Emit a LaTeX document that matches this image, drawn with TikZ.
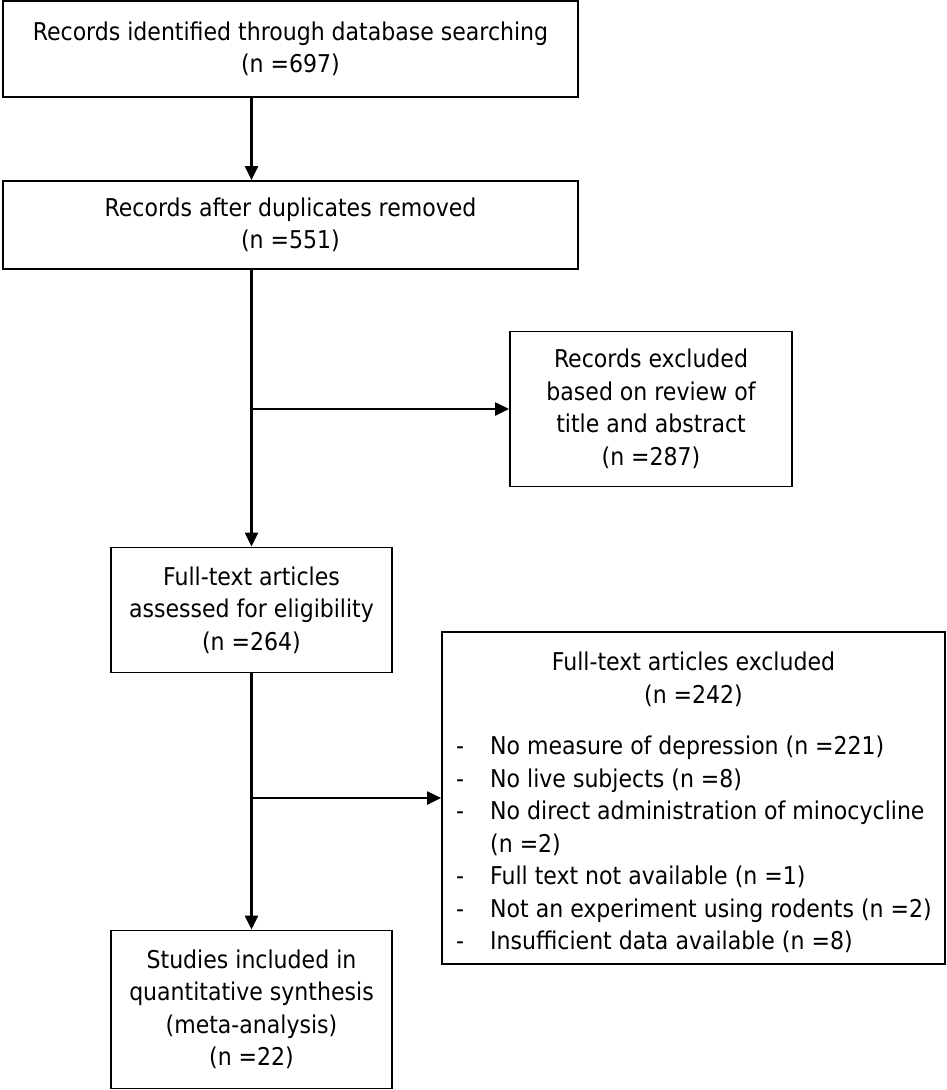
\documentclass[tikz,border=0pt]{standalone}
\usepackage{fontspec}
\setmainfont{DejaVu Sans Condensed}
\usetikzlibrary{arrows.meta}
\begin{document}
\begin{tikzpicture}[x=1pt,y=-1pt,
  txt/.style={font=\fontsize{24.5}{32.5}\selectfont},
  box/.style={draw, line width=1.8pt, inner sep=0pt, align=center, txt},
  arr/.style={line width=2.2pt, -{Triangle[length=14pt,width=13pt]}},
  ln/.style={line width=2.2pt}]
\useasboundingbox (0,0) rectangle (947,1090);
\node[box, minimum width=575, minimum height=96] (b1) at (290.5,49) {Records identified through database searching\\(n =697)};
\node[box, minimum width=575, minimum height=88] (b2) at (290.5,225) {Records after duplicates removed\\(n =551)};
\node[box, minimum width=282, minimum height=155] (ex1) at (651,409) {Records excluded\\based on review of\\title and abstract\\(n =287)};
\node[box, minimum width=281, minimum height=125] (b3) at (251.5,610) {Full-text articles\\assessed for eligibility\\(n =264)};
\node[box, minimum width=503, minimum height=332] (ex2) at (693.5,798) {};
\node[txt, align=center, inner sep=0pt, anchor=north] (t2) at (693.5,648) {\strut Full-text articles excluded\\\strut(n =242)};
\node[txt, inner sep=0pt, anchor=north west] (l2) at (456,732) {%
\begin{tabular}{@{}p{34pt}@{}l@{}}
-& No measure of depression (n =221)\\
-& No live subjects (n =8)\\
-& No direct administration of minocycline\\
 & (n =2)\\
-& Full text not available (n =1)\\
-& Not an experiment using rodents (n =2)\\
-& Insufficient data available (n =8)
\end{tabular}};
\node[box, minimum width=281, minimum height=158] (b5) at (251.5,1009.5) {Studies included in\\quantitative synthesis\\(meta-analysis)\\(n =22)};
\draw[arr] (b1.south -| b3) -- (b2.north -| b3);
\draw[arr] (b2.south -| b3) -- (b3.north);
\coordinate (j1) at (b3.north |- ex1.west);
\draw[arr] (j1) -- (ex1.west);
\draw[arr] (b3.south) -- (b5.north);
\coordinate (j2) at (b3.south |- ex2.west);
\draw[arr] (j2) -- (ex2.west);
\end{tikzpicture}
\end{document}
